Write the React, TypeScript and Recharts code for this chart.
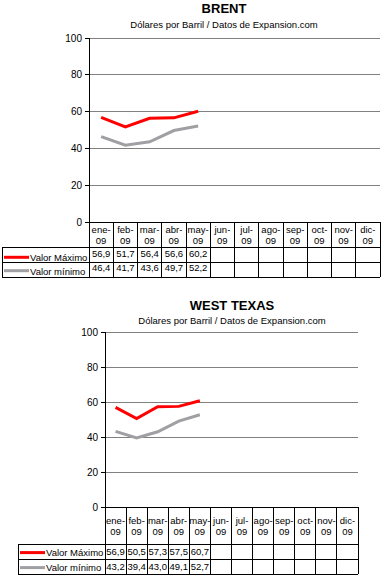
import { LineChart, Line, XAxis, YAxis, CartesianGrid } from 'recharts';

const MONTHS = ['ene', 'feb', 'mar', 'abr', 'may', 'jun', 'jul', 'ago', 'sep', 'oct', 'nov', 'dic'];
const YEAR = '09';
const Y_TICKS = [0, 20, 40, 60, 80, 100];
const SUBTITLE = 'Dólares por Barril / Datos de Expansion.com';
const SERIES_NAMES = ['Valor Máximo', 'Valor mínimo'];

// only jan-may 2009 published so far
const BRENT_MAX = [56.9, 51.7, 56.4, 56.6, 60.2];
const BRENT_MIN = [46.4, 41.7, 43.6, 49.7, 52.2];
const WTI_MAX = [56.9, 50.5, 57.3, 57.5, 60.7];
const WTI_MIN = [43.2, 39.4, 43.0, 49.1, 52.7];

const RED = '#ff0000';
const GRAY = '#a0a0a4';
const GRID = '#808080';
const FONT = '"Liberation Sans", Arial, sans-serif';
const Y_AXIS_W = 30;

const BRENT_LAYOUT = {
  top: 0,
  width: 384,
  height: 280,
  margin: { top: 38, right: 4, left: 59, bottom: 3 },
  headerH: 25,
  rowH: [15, 15],
  tableLeft: 2,
  titleX: 224,
  titleY: 8.5,
  subtitleY: 25,
  headBase: [11, 22],
  valueBase: [34.7, 48.7],
  labelBase: [39, 52.5],
  keyY: [35.3, 48.7],
};

const WTI_LAYOUT = {
  top: 280,
  width: 384,
  height: 296,
  margin: { top: 52, right: 26, left: 75, bottom: 2 },
  headerH: 37,
  rowH: [15, 15],
  tableLeft: 18,
  titleX: 232,
  titleY: 25.7,
  subtitleY: 41,
  headBase: [16.6, 28],
  valueBase: [48, 63.3],
  labelBase: [48.8, 64.3],
  keyY: [45.6, 60.6],
};

type Layout = typeof BRENT_LAYOUT;

const fmt = (v: number | null) => (v == null ? '' : v.toFixed(1).replace('.', ','));

function TableTick(props: any) {
  const { x, y, payload, cfg, bandW, rows } = props;
  const i: number = payload.index;
  const n = MONTHS.length;
  const axisH = cfg.headerH + cfg.rowH[0] + cfg.rowH[1];
  const left = x - bandW / 2;
  const bottom = y + axisH;
  const r1 = y + cfg.headerH;
  const r2 = r1 + cfg.rowH[0];
  const [mon, yr] = String(payload.value).split('-');
  const row = rows[i];
  const line = { stroke: '#000', strokeWidth: 1, shapeRendering: 'crispEdges' as const };
  const txt = { fontFamily: FONT, fontSize: 9.5, fill: '#000' };

  return (
    <g>
      <line x1={left} y1={y} x2={left} y2={bottom} {...line} />
      {i === n - 1 && <line x1={left + bandW} y1={y} x2={left + bandW} y2={bottom} {...line} />}
      <text x={x} y={y + cfg.headBase[0]} textAnchor="middle" {...txt}>{mon + '-'}</text>
      <text x={x} y={y + cfg.headBase[1]} textAnchor="middle" {...txt}>{yr}</text>
      <text x={x} y={y + cfg.valueBase[0]} textAnchor="middle" {...txt}>{fmt(row.max)}</text>
      <text x={x} y={y + cfg.valueBase[1]} textAnchor="middle" {...txt}>{fmt(row.min)}</text>
      {i === 0 && (
        <g>
          <line x1={cfg.tableLeft} y1={r1} x2={left + n * bandW} y2={r1} {...line} />
          <line x1={cfg.tableLeft} y1={r2} x2={left + n * bandW} y2={r2} {...line} />
          <line x1={cfg.tableLeft} y1={bottom} x2={left + n * bandW} y2={bottom} {...line} />
          <line x1={cfg.tableLeft} y1={r1} x2={cfg.tableLeft} y2={bottom} {...line} />
          <line x1={cfg.tableLeft + 2} y1={y + cfg.keyY[0]} x2={cfg.tableLeft + 27} y2={y + cfg.keyY[0]}
            stroke={RED} strokeWidth={3} />
          <line x1={cfg.tableLeft + 2} y1={y + cfg.keyY[1]} x2={cfg.tableLeft + 27} y2={y + cfg.keyY[1]}
            stroke={GRAY} strokeWidth={3} />
          <text x={cfg.tableLeft + 28} y={y + cfg.labelBase[0]} {...txt}>{SERIES_NAMES[0]}</text>
          <text x={cfg.tableLeft + 28} y={y + cfg.labelBase[1]} {...txt}>{SERIES_NAMES[1]}</text>
        </g>
      )}
    </g>
  );
}

function OilChart({ title, maxVals, minVals, cfg }: { title: string; maxVals: number[]; minVals: number[]; cfg: Layout }) {
  const rows = MONTHS.map((m, i) => ({
    month: `${m}-${YEAR}`,
    max: maxVals[i] ?? null,
    min: minVals[i] ?? null,
  }));
  const axisH = cfg.headerH + cfg.rowH[0] + cfg.rowH[1];
  const plotLeft = cfg.margin.left + Y_AXIS_W;
  const plotRight = cfg.width - cfg.margin.right;
  const bandW = (plotRight - plotLeft) / MONTHS.length;

  return (
    <div style={{ position: 'absolute', left: 0, top: cfg.top, width: cfg.width, height: cfg.height }}>
      <LineChart width={cfg.width} height={cfg.height} data={rows} margin={cfg.margin}>
        <CartesianGrid vertical={false} stroke={GRID} shapeRendering="crispEdges" />
        <XAxis
          dataKey="month"
          interval={0}
          height={axisH}
          padding={{ left: bandW / 2, right: bandW / 2 }}
          tickLine={false}
          tickSize={0}
          tickMargin={0}
          axisLine={{ stroke: '#000', shapeRendering: 'crispEdges' }}
          tick={(p: any) => <TableTick {...p} cfg={cfg} bandW={bandW} rows={rows} />}
        />
        <YAxis
          width={Y_AXIS_W}
          domain={[0, 100]}
          ticks={Y_TICKS}
          interval={0}
          tickSize={4}
          tickMargin={3}
          axisLine={{ stroke: '#000', shapeRendering: 'crispEdges' }}
          tickLine={{ stroke: '#000', shapeRendering: 'crispEdges' }}
          tick={{ fill: '#000', fontSize: 10, fontFamily: FONT }}
        />
        <YAxis
          yAxisId="frame"
          orientation="right"
          width={0}
          domain={[0, 100]}
          tick={false}
          tickLine={false}
          axisLine={{ stroke: GRID, shapeRendering: 'crispEdges' }}
        />
        <Line type="linear" dataKey="max" stroke={RED} strokeWidth={3} dot={false} isAnimationActive={false} />
        <Line type="linear" dataKey="min" stroke={GRAY} strokeWidth={3} dot={false} isAnimationActive={false} />
      </LineChart>
      <div
        style={{
          position: 'absolute', left: cfg.titleX, top: cfg.titleY - 6.5, transform: 'translateX(-50%)',
          fontFamily: FONT, fontWeight: 'bold', fontSize: 13, lineHeight: '13px', whiteSpace: 'nowrap',
        }}
      >
        {title}
      </div>
      <div
        style={{
          position: 'absolute', left: cfg.titleX, top: cfg.subtitleY - 5, transform: 'translateX(-50%)',
          fontFamily: FONT, fontSize: 9.5, lineHeight: '10px', whiteSpace: 'nowrap',
        }}
      >
        {SUBTITLE}
      </div>
    </div>
  );
}

export default function App() {
  return (
    <div style={{ position: 'absolute', left: 0, top: 0, width: 384, height: 576, background: '#fff' }}>
      <OilChart title="BRENT" maxVals={BRENT_MAX} minVals={BRENT_MIN} cfg={BRENT_LAYOUT} />
      <OilChart title="WEST TEXAS" maxVals={WTI_MAX} minVals={WTI_MIN} cfg={WTI_LAYOUT} />
    </div>
  );
}
